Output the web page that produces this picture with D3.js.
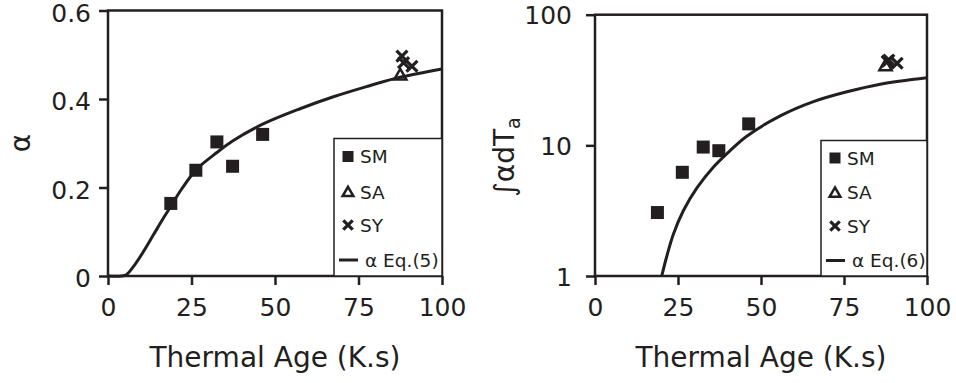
<!DOCTYPE html>
<html lang="en">
<head>
<meta charset="UTF-8">
<title>Thermal Age</title>
<script src="https://d3js.org/d3.v7.min.js"></script>
<style>
    body { margin: 0; background: #fff; }
    svg { display: block; font-family: "DejaVu Sans", sans-serif; }
    .tick text { fill: #231f20; }
</style>
</head>
<body>
<svg id="chart" width="956" height="383"></svg>
<script>
// tick values
const ageTicks = [0, 25, 50, 75, 100];
const alphaTicks = [0, 0.2, 0.4, 0.6];
const integralTicks = [1, 10, 100];

// SM samples
const smAge = [18.8, 26.3, 32.6, 37.3, 46.3];
const smAlpha = [0.164, 0.239, 0.303, 0.248, 0.320];
const smIntegral = [3.06, 6.22, 9.7, 9.1, 14.6];

// SA samples
const saAge = [87.5];
const saAlpha = [0.452];
const saIntegral = [40];

// SY samples
const syAge = [88, 88.5, 91];
const syAlpha = [0.497, 0.482, 0.474];
const syIntegral = [44, 45, 42.5];

// model curves
const eq5Age = [0, 4, 5.5, 7.6, 10.6, 13.6, 16.6, 18.6, 22, 26.5, 32.6, 37.3, 46.3, 57.5, 67.5, 77.4, 87.4, 100];
const eq5Alpha = [0, 0, 0.003, 0.021, 0.055, 0.093, 0.131, 0.155, 0.196, 0.241, 0.279, 0.305, 0.343, 0.378, 0.405, 0.428, 0.449, 0.468];
const eq6Age = [20.1, 21.6, 23.6, 26.6, 30.7, 35.7, 40.7, 45.7, 55.8, 65.8, 75.9, 85.9, 100];
const eq6Integral = [1, 1.41, 2.09, 3.16, 4.73, 6.84, 9.12, 11.75, 16.8, 21.6, 25.7, 29.4, 32.9];

const ink = '#231f20';
const svg = d3.select('#chart');

function drawPanel(opt) {
    const g = svg.append('g');
    const x = d3.scaleLinear().domain([0, 100]).range([opt.left, opt.right]);
    const y = opt.y;

    // x axis
    const xAxis = g.append('g')
        .attr('transform', `translate(0,${opt.bottom})`)
        .call(d3.axisBottom(x).tickValues(ageTicks).tickSize(9).tickSizeOuter(0).tickPadding(13));
    // y axis
    const yAxis = g.append('g')
        .attr('transform', `translate(${opt.left},0)`)
        .call(d3.axisLeft(y).tickValues(opt.yTicks).tickFormat(opt.yFormat).tickSize(9).tickSizeOuter(0).tickPadding(opt.yPad));
    [xAxis, yAxis].forEach(a => {
        a.select('.domain').remove();
        a.selectAll('.tick line').attr('stroke', ink).attr('stroke-width', 2.5);
        a.selectAll('.tick text').attr('font-size', 25).attr('font-family', '"DejaVu Sans", sans-serif');
    });
    yAxis.selectAll('.tick text').attr('dy', opt.yDy);

    // frame
    g.append('rect')
        .attr('x', opt.left).attr('y', opt.top)
        .attr('width', opt.right - opt.left).attr('height', opt.bottom - opt.top)
        .attr('fill', 'none').attr('stroke', ink).attr('stroke-width', 2.5);

    // legend box
    const lg = opt.legend;
    g.append('rect')
        .attr('x', lg.x).attr('y', lg.y)
        .attr('width', opt.right - lg.x).attr('height', opt.bottom - lg.y)
        .attr('fill', '#fff').attr('stroke', ink).attr('stroke-width', 1.5);

    // curve
    const line = d3.line()
        .x(d => x(d[0])).y(d => y(d[1]))
        .curve(d3.curveCatmullRom.alpha(0.5));
    g.append('path')
        .datum(opt.curveX.map((v, i) => [v, opt.curveY[i]]))
        .attr('d', line)
        .attr('fill', 'none').attr('stroke', ink).attr('stroke-width', 3);

    // SM squares
    g.selectAll('.sm')
        .data(smAge.map((v, i) => [v, opt.sm[i]]))
        .join('rect')
        .attr('x', d => x(d[0]) - 6.5).attr('y', d => y(d[1]) - 6.5)
        .attr('width', 13).attr('height', 13)
        .attr('fill', ink);

    const tri = d3.symbol().type(d3.symbolTriangle).size(65);
    g.selectAll('.sa')
        .data(saAge.map((v, i) => [v, opt.sa[i]]))
        .join('path')
        .attr('d', tri)
        .attr('transform', d => `translate(${x(d[0])},${y(d[1])})`)
        .attr('fill', 'none').attr('stroke', ink).attr('stroke-width', 2.5);

    const cross = d3.symbol().type(d3.symbolTimes).size(80);
    g.selectAll('.sy')
        .data(syAge.map((v, i) => [v, opt.sy[i]]))
        .join('path')
        .attr('d', cross)
        .attr('transform', d => `translate(${x(d[0])},${y(d[1])})`)
        .attr('fill', 'none').attr('stroke', ink).attr('stroke-width', 3.2);

    // legend entries
    const mx = lg.x + 14, tx = lg.x + 26;
    const rows = lg.rows;
    g.append('rect').attr('x', mx - 5.5).attr('y', rows[0] - 5.5).attr('width', 11).attr('height', 11).attr('fill', ink);
    g.append('path').attr('d', d3.symbol().type(d3.symbolTriangle).size(50))
        .attr('transform', `translate(${mx},${rows[1] + 1})`)
        .attr('fill', 'none').attr('stroke', ink).attr('stroke-width', 2.5);
    g.append('path').attr('d', d3.symbol().type(d3.symbolTimes).size(60))
        .attr('transform', `translate(${mx},${rows[2]})`)
        .attr('fill', 'none').attr('stroke', ink).attr('stroke-width', 3.2);
    g.append('line').attr('x1', lg.x + 5).attr('x2', lg.x + 24)
        .attr('y1', rows[3]).attr('y2', rows[3])
        .attr('stroke', ink).attr('stroke-width', 3);
    ['SM', 'SA', 'SY'].forEach((t, i) => {
        g.append('text').attr('x', tx).attr('y', rows[i]).attr('dy', '0.36em')
            .attr('font-size', 18.5).attr('fill', ink).text(t);
    });
    g.append('text').attr('x', lg.x + 31).attr('y', rows[3]).attr('dy', '0.36em')
        .attr('font-size', 18.5).attr('fill', ink).text(lg.eq);

    // x label
    g.append('text')
        .attr('x', (opt.left + opt.right) / 2).attr('y', 367)
        .attr('text-anchor', 'middle').attr('font-size', 28).attr('fill', ink)
        .text('Thermal Age (K.s)');
    return g;
}

// left panel: alpha
const left = drawPanel({
    left: 108, right: 442, top: 10.5, bottom: 276,
    y: d3.scaleLinear().domain([0, 0.6]).range([276, 10.5]),
    yTicks: alphaTicks, yFormat: d => d === 0 ? '0' : d3.format('.1f')(d), yPad: 8, yDy: '0.42em',
    curveX: eq5Age, curveY: eq5Alpha,
    sm: smAlpha, sa: saAlpha, sy: syAlpha,
    legend: { x: 334, y: 138.5, rows: [156.5, 192, 225, 260], eq: 'α Eq.(5)' }
});
left.append('text')
    .attr('transform', 'translate(30,143) rotate(-90)')
    .attr('text-anchor', 'middle').attr('font-size', 28).attr('fill', ink)
    .text('α');

// right panel: integral, log scale
const right = drawPanel({
    left: 595, right: 927, top: 14.7, bottom: 276,
    y: d3.scaleLog().domain([1, 100]).range([276, 14.7]),
    yTicks: integralTicks, yFormat: d3.format('d'), yPad: 14, yDy: '0.36em',
    curveX: eq6Age, curveY: eq6Integral,
    sm: smIntegral, sa: saIntegral, sy: syIntegral,
    legend: { x: 821, y: 140.5, rows: [158, 192.7, 226, 260.5], eq: 'α Eq.(6)' }
});
const yl = right.append('text')
    .attr('transform', 'translate(514,157) rotate(-90)')
    .attr('text-anchor', 'middle').attr('font-size', 28).attr('fill', ink);
yl.append('tspan').text('∫αdT');
yl.append('tspan').attr('font-size', 19).attr('dy', 6).text('a');
</script>
</body>
</html>
